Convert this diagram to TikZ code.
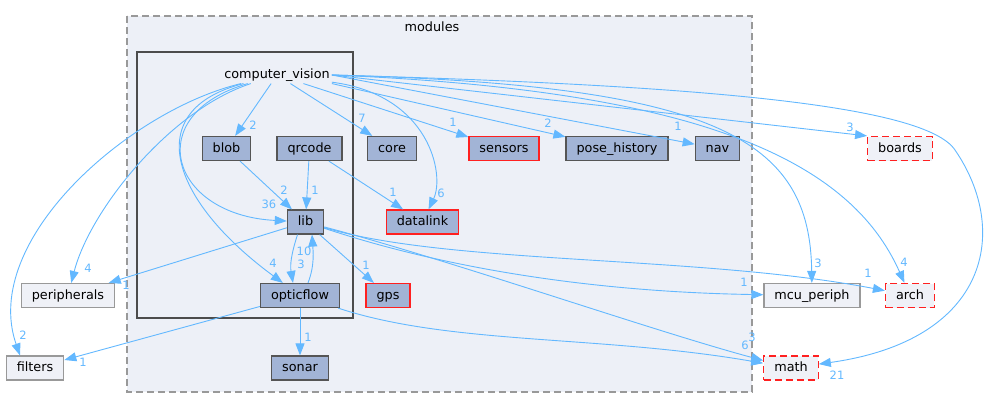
\documentclass[tikz,border=0pt]{standalone}
\usepackage{fontspec}
\setmainfont{DejaVu Sans}
\usetikzlibrary{arrows.meta}

\definecolor{dirfill}{HTML}{A2B4D6}
\definecolor{dirline}{HTML}{555555}
\definecolor{clusterfill}{HTML}{EDF0F7}
\definecolor{outfill}{HTML}{EFF1F7}
\definecolor{outline}{HTML}{999999}
\definecolor{edgeblue}{HTML}{63B8FF}
\definecolor{dirred}{HTML}{FF2020}

\newcommand\nodefont{\fontsize{12.8}{15}\selectfont}
\newcommand\lblfont{\fontsize{11.5}{13}\selectfont}

\tikzset{
  dir/.style={draw=dirline, fill=dirfill, line width=1.2pt, minimum height=24pt,
    inner xsep=10.5pt, inner ysep=0pt, text height=9.5pt, text depth=2.5pt, font=\nodefont},
  dirred/.style={dir, draw=dirred},
  ext/.style={dir, draw=outline, fill=outfill},
  extred/.style={ext, draw=dirred, dash pattern=on 7pt off 4pt},
  clusterlbl/.style={font=\nodefont, inner sep=2pt},
  dep/.style={draw=edgeblue, line width=0.9pt, -{Triangle[length=12pt,width=9pt]}},
  lbl/.style={text=edgeblue, font=\lblfont, inner sep=0pt},
}

\begin{document}
\begin{tikzpicture}[x=1pt,y=-1pt]
  \useasboundingbox (0,0) rectangle (991,408);

  % clusters
  \draw[fill=clusterfill, draw=outline, line width=1.4pt, dash pattern=on 7pt off 4pt]
    (127,16) rectangle (752,392);
  \node[clusterlbl] (modules) at (432,27) {modules};
  \draw[fill=clusterfill, draw=dirline!90!black, line width=2.2pt] (137,52) rectangle (353,318);
  \node[clusterlbl] (cv) at (277,75) {computer\_vision};

  % directories inside computer_vision
  \node[dir] (blob)      at (226.5,148.5) {blob};
  \node[dir] (qrcode)    at (309.5,148.5) {qrcode};
  \node[dir] (lib)       at (305.5,222)   {lib};
  \node[dir] (opticflow) at (300,295.5)   {opticflow};

  % directories inside modules
  \node[dir]    (core)         at (392,148.5)   {core};
  \node[dirred] (sensors)      at (504,148.5)   {sensors};
  \node[dir]    (pose_history) at (617,148.5)   {pose\_history};
  \node[dir]    (nav)          at (717.5,148.5) {nav};
  \node[dirred] (datalink)     at (422.5,222)   {datalink};
  \node[dirred] (gps)          at (388,295.5)   {gps};
  \node[dir]    (sonar)        at (300,368)     {sonar};

  % outside
  \node[ext]    (peripherals) at (68,295.5)  {peripherals};
  \node[ext]    (filters)     at (35,368)    {filters};
  \node[ext]    (mcu_periph)  at (812,295.5) {mcu\_periph};
  \node[extred] (arch)        at (910,295.5) {arch};
  \node[extred] (math)        at (791,368)   {math};
  \node[extred] (boards)      at (900,148.5) {boards};

  % from computer_vision
  \draw[dep] (cv) -- (blob) node[lbl] at (253,125) {2};
  \draw[dep] (cv) -- (core) node[lbl] at (362,118) {7};
  \draw[dep] (cv) -- (sensors) node[lbl] at (453,122) {1};
  \draw[dep] (cv.south east) -- (pose_history) node[lbl] at (548,123) {2};
  \draw[dep] (cv.east) -- (nav) node[lbl] at (678,126) {1};
  \draw[dep] (cv.east) -- (boards.north west) node[lbl] at (850,127) {3};
  \draw[dep] (cv) .. controls (430,95) and (445,175) .. (datalink) node[lbl] at (441,193) {6};
  \draw[dep] (cv) .. controls (140,115) and (170,215) .. (lib) node[lbl] at (269,204) {36};
  \draw[dep] (cv) .. controls (140,110) and (170,200) .. (opticflow) node[lbl] at (273,263) {4};
  \draw[dep] (cv) .. controls (170,110) and (90,210) .. (peripherals) node[lbl] at (88,268) {4};
  \draw[dep] (cv) .. controls (130,110) and (-20,240) .. ([xshift=-15pt]filters.north) node[lbl] at (23,335) {2};
  \draw[dep] (cv.east) .. controls (720,85) and (810,140) .. (mcu_periph) node[lbl] at (818,263) {3};
  \draw[dep] (cv.east) .. controls (700,90) and (850,160) .. (arch) node[lbl] at (904,262) {4};
  \draw[dep] (cv.east) .. controls (700,85) and (925,105) .. (955,150)
    .. controls (1010,230) and (990,340) .. (math) node[lbl] at (837,375) {21};

  % inside computer_vision
  \draw[dep] (blob) -- (lib) node[lbl] at (284,190) {2};
  \draw[dep] (qrcode) -- (lib) node[lbl] at (315,190) {1};
  \draw[dep] (qrcode) -- (datalink) node[lbl] at (393,192) {1};
  \draw[dep] ([xshift=-8pt]lib.south) .. controls (291,255) and (290,265) .. ([xshift=-7pt]opticflow.north)
    node[lbl] at (301,264) {3};
  \draw[dep] ([xshift=8pt]opticflow.north) .. controls (315,265) and (313,250) .. ([xshift=6.5pt]lib.south)
    node[lbl] at (304,251) {10};

  % from lib
  \draw[dep] (lib) -- (peripherals) node[lbl] at (126,285) {1};
  \draw[dep] (lib) -- (gps) node[lbl] at (366,265) {1};
  \draw[dep] (lib) .. controls (450,270) and (600,292) .. (mcu_periph) node[lbl] at (744,282) {1};
  \draw[dep] (lib) .. controls (450,265) and (700,255) .. (arch) node[lbl] at (868,273) {1};
  \draw[dep] (lib) .. controls (450,260) and (650,330) .. (math) node[lbl] at (745,345) {6};

  % from opticflow
  \draw[dep] (opticflow) -- (filters) node[lbl] at (83,362) {1};
  \draw[dep] (opticflow) -- (sonar) node[lbl] at (308,337) {1};
  \draw[dep] (opticflow) .. controls (450,345) and (600,335) .. (math) node[lbl] at (752,337) {3};
\end{tikzpicture}
\end{document}
